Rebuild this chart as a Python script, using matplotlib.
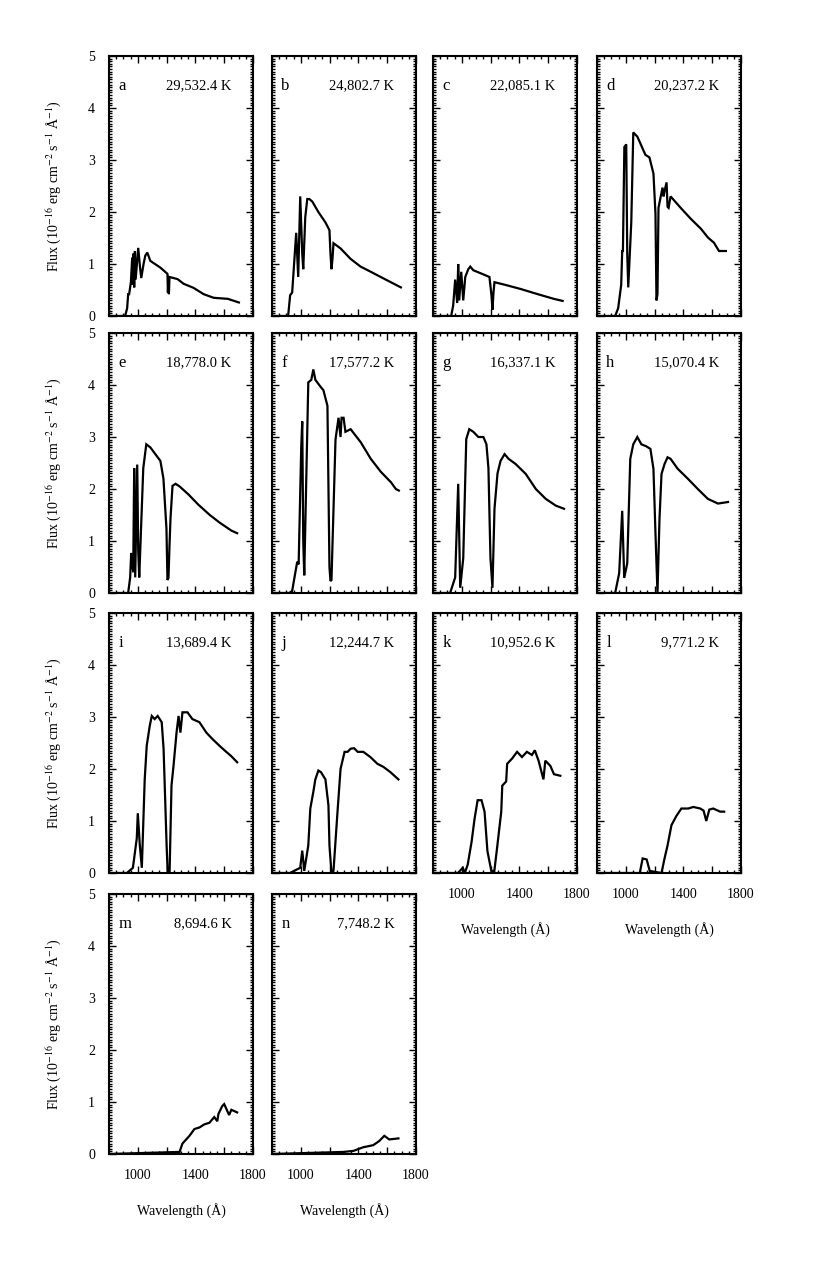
import matplotlib
matplotlib.use('Agg')
import matplotlib.pyplot as plt
from matplotlib.ticker import MultipleLocator, FixedLocator

plt.rcParams['font.family'] = ['Liberation Serif', 'DejaVu Serif']
plt.rcParams['mathtext.fontset'] = 'stix'

# panel letters and model temperatures
letters = ['a', 'b', 'c', 'd', 'e', 'f', 'g', 'h', 'i', 'j', 'k', 'l', 'm', 'n']
temps = ['29,532.4 K', '24,802.7 K', '22,085.1 K', '20,237.2 K', '18,778.0 K',
         '17,577.2 K', '16,337.1 K', '15,070.4 K', '13,689.4 K', '12,244.7 K',
         '10,952.6 K', '9,771.2 K', '8,694.6 K', '7,748.2 K']

# spectra (wavelength in A, flux in 1e-16 erg cm-2 s-1 A-1)
wl_a = [800, 912, 926, 933, 940, 952, 961, 966, 970, 975, 980, 985, 1003, 1015, 1024, 1040, 1052, 1066, 1087, 1157, 1206, 1209, 1213, 1216, 1220, 1276, 1318, 1388, 1457, 1527, 1625, 1702]
fx_a = [0, 0, 0.15, 0.42, 0.42, 0.65, 1.12, 0.6, 1.2, 0.55, 1.25, 0.7, 1.31, 0.95, 0.73, 1.0, 1.16, 1.22, 1.06, 0.93, 0.81, 0.45, 0.72, 0.42, 0.75, 0.71, 0.62, 0.54, 0.42, 0.35, 0.33, 0.26]

wl_b = [800, 912, 926, 940, 968, 982, 996, 1010, 1017, 1031, 1045, 1059, 1080, 1122, 1171, 1199, 1206, 1213, 1220, 1227, 1276, 1345, 1415, 1486, 1590, 1660, 1695]
fx_b = [0, 0, 0.4, 0.45, 1.6, 0.75, 2.3, 1.2, 0.9, 1.9, 2.25, 2.25, 2.2, 2.0, 1.8, 1.65, 1.2, 0.9, 1.1, 1.4, 1.3, 1.1, 0.95, 0.85, 0.7, 0.6, 0.55]

wl_c = [800, 926, 940, 954, 968, 975, 982, 996, 1010, 1024, 1045, 1059, 1080, 1150, 1192, 1206, 1213, 1220, 1227, 1300, 1408, 1527, 1639, 1700]
fx_c = [0, 0, 0.2, 0.7, 0.25, 1.0, 0.3, 0.85, 0.3, 0.75, 0.9, 0.95, 0.88, 0.8, 0.75, 0.4, 0.12, 0.45, 0.65, 0.6, 0.52, 0.42, 0.33, 0.29]

wl_d = [800, 926, 947, 968, 975, 980, 990, 1003, 1010, 1017, 1038, 1052, 1080, 1101, 1136, 1164, 1192, 1206, 1213, 1220, 1227, 1255, 1262, 1269, 1283, 1290, 1297, 1311, 1381, 1451, 1521, 1570, 1612, 1647, 1695]
fx_d = [0, 0, 0.15, 0.6, 1.25, 1.25, 3.25, 3.3, 1.2, 0.55, 1.8, 3.53, 3.45, 3.32, 3.1, 3.05, 2.74, 1.97, 0.3, 0.42, 2.08, 2.47, 2.3, 2.4, 2.57, 2.1, 2.08, 2.3, 2.08, 1.87, 1.68, 1.51, 1.41, 1.25, 1.25]

wl_e = [800, 933, 947, 954, 968, 975, 982, 996, 1003, 1010, 1038, 1059, 1087, 1122, 1157, 1178, 1199, 1206, 1213, 1220, 1227, 1241, 1262, 1290, 1350, 1420, 1500, 1570, 1650, 1690]
fx_e = [0, 0, 0.3, 0.77, 0.4, 2.4, 0.3, 2.47, 0.8, 0.3, 2.4, 2.86, 2.8, 2.67, 2.54, 2.2, 1.24, 0.25, 0.29, 0.9, 1.43, 2.06, 2.1, 2.05, 1.9, 1.7, 1.5, 1.35, 1.2, 1.15]

wl_f = [800, 920, 940, 975, 985, 1003, 1010, 1017, 1024, 1052, 1073, 1087, 1101, 1136, 1157, 1185, 1199, 1206, 1213, 1241, 1262, 1276, 1283, 1297, 1310, 1346, 1416, 1486, 1556, 1626, 1660, 1681]
fx_f = [0, 0, 0.04, 0.6, 0.55, 2.8, 3.3, 1.0, 0.34, 4.05, 4.1, 4.3, 4.1, 3.97, 3.9, 3.6, 0.5, 0.23, 0.25, 2.95, 3.37, 3.0, 3.37, 3.37, 3.1, 3.15, 2.9, 2.58, 2.33, 2.13, 2.0, 1.97]

wl_g = [800, 919, 954, 975, 989, 1010, 1031, 1052, 1080, 1115, 1150, 1171, 1185, 1199, 1213, 1227, 1248, 1269, 1297, 1325, 1374, 1444, 1514, 1583, 1653, 1710]
fx_g = [0, 0, 0.3, 2.1, 0.1, 0.67, 2.96, 3.15, 3.1, 3.0, 3.0, 2.86, 2.4, 0.67, 0.1, 1.62, 2.3, 2.54, 2.67, 2.58, 2.48, 2.29, 2.0, 1.81, 1.68, 1.62]

wl_h = [800, 926, 954, 975, 989, 1010, 1031, 1052, 1080, 1108, 1143, 1171, 1192, 1206, 1220, 1234, 1248, 1269, 1290, 1311, 1360, 1430, 1500, 1570, 1640, 1710]
fx_h = [0, 0, 0.38, 1.58, 0.29, 0.57, 2.58, 2.86, 3.0, 2.86, 2.82, 2.77, 2.39, 1.15, 0.0, 1.43, 2.29, 2.48, 2.61, 2.58, 2.39, 2.2, 2.0, 1.81, 1.72, 1.75]

wl_i = [800, 924, 966, 993, 1000, 1014, 1028, 1048, 1062, 1083, 1097, 1117, 1138, 1166, 1179, 1200, 1207, 1221, 1234, 1248, 1269, 1283, 1296, 1310, 1345, 1379, 1428, 1476, 1517, 1566, 1614, 1648, 1690]
fx_i = [0, 0, 0.1, 0.67, 1.15, 0.53, 0.1, 1.8, 2.45, 2.83, 3.02, 2.96, 3.02, 2.9, 2.39, 0.54, 0.04, 0.04, 1.68, 2.06, 2.7, 3.02, 2.7, 3.09, 3.09, 2.96, 2.9, 2.7, 2.58, 2.45, 2.33, 2.25, 2.13]

wl_j = [800, 924, 996, 1010, 1024, 1052, 1066, 1087, 1101, 1122, 1140, 1171, 1192, 1199, 1213, 1227, 1255, 1276, 1304, 1325, 1346, 1370, 1395, 1434, 1483, 1532, 1574, 1622, 1678]
fx_j = [0, 0, 0.1, 0.43, 0.04, 0.53, 1.24, 1.56, 1.8, 1.97, 1.94, 1.8, 1.3, 0.53, 0.0, 0.04, 1.18, 2.0, 2.33, 2.33, 2.39, 2.4, 2.33, 2.33, 2.23, 2.1, 2.04, 1.94, 1.8]

wl_k = [800, 973, 1007, 1021, 1041, 1068, 1089, 1110, 1137, 1158, 1178, 1205, 1226, 1247, 1274, 1281, 1308, 1315, 1349, 1384, 1418, 1452, 1487, 1507, 1533, 1567, 1580, 1615, 1640, 1684]
fx_k = [0, 0, 0.1, 0.0, 0.16, 0.6, 1.05, 1.4, 1.4, 1.18, 0.42, 0.04, 0.04, 0.53, 1.18, 1.68, 1.76, 2.1, 2.2, 2.33, 2.23, 2.33, 2.27, 2.36, 2.16, 1.8, 2.16, 2.06, 1.9, 1.87]

wl_l = [800, 1097, 1117, 1145, 1166, 1248, 1269, 1290, 1317, 1352, 1386, 1434, 1469, 1517, 1540, 1559, 1580, 1607, 1655, 1683]
fx_l = [0, 0, 0.28, 0.26, 0.04, 0.0, 0.28, 0.53, 0.92, 1.1, 1.24, 1.24, 1.27, 1.24, 1.2, 1.0, 1.22, 1.24, 1.18, 1.18]

wl_m = [800, 1290, 1310, 1359, 1393, 1428, 1462, 1497, 1531, 1552, 1560, 1586, 1600, 1634, 1650, 1690]
fx_m = [0, 0.04, 0.2, 0.35, 0.48, 0.51, 0.57, 0.6, 0.71, 0.63, 0.77, 0.92, 0.96, 0.75, 0.85, 0.8]

wl_n = [800, 1297, 1366, 1434, 1503, 1545, 1580, 1614, 1678]
fx_n = [0, 0.04, 0.06, 0.13, 0.17, 0.25, 0.35, 0.28, 0.3]

spectra = [(wl_a, fx_a), (wl_b, fx_b), (wl_c, fx_c), (wl_d, fx_d),
           (wl_e, fx_e), (wl_f, fx_f), (wl_g, fx_g), (wl_h, fx_h),
           (wl_i, fx_i), (wl_j, fx_j), (wl_k, fx_k), (wl_l, fx_l),
           (wl_m, fx_m), (wl_n, fx_n)]

W, H = 817, 1269
fig = plt.figure(figsize=(W / 100, H / 100), dpi=100)

col_left = [109, 272, 433, 597]     # pixel positions of the panels
row_top = [56, 333, 613, 894]
pw, ph = 144, 260

ylab = 'Flux (10$^{-16}$ erg cm$^{-2}$ s$^{-1}$ Å$^{-1}$)'

for k, (wl, fx) in enumerate(spectra):
    r, c = divmod(k, 4)
    x0, y0 = col_left[c], row_top[r]
    ax = fig.add_axes([x0 / W, 1 - (y0 + ph) / H, pw / W, ph / H])
    ax.plot(wl, fx, color='black', lw=1.6, solid_joinstyle='miter')
    ax.set_xlim(800, 1800)
    ax.set_ylim(0, 5)
    for s in ax.spines.values():
        s.set_linewidth(1.5)
    ax.xaxis.set_major_locator(FixedLocator([800, 1000, 1200, 1400, 1600, 1800]))
    ax.xaxis.set_minor_locator(MultipleLocator(50))
    ax.yaxis.set_major_locator(MultipleLocator(1))
    ax.yaxis.set_minor_locator(MultipleLocator(0.05))
    ax.tick_params(which='both', direction='in', top=True, right=True, width=1.0)
    ax.tick_params(which='major', length=5)
    ax.tick_params(which='minor', length=2.5)

    # x tick labels only on the lowest panel of each column
    if k in (10, 11, 12, 13):
        ax.set_xticklabels(['', '1000', '', '1400', '', '1800'], fontsize=10)
        ax.tick_params(axis='x', pad=11)
        ax.set_xlabel('Wavelength (Å)', fontsize=10, labelpad=15)
    else:
        ax.set_xticklabels([])

    if c == 0:
        ax.tick_params(axis='y', labelsize=10, pad=10)
        ax.set_ylabel(ylab, fontsize=10, labelpad=17)
    else:
        ax.set_yticklabels([])

    ax.text(0.065, 0.885, letters[k], transform=ax.transAxes, fontsize=12,
            ha='left', va='center')
    ax.text(0.85, 0.885, temps[k], transform=ax.transAxes, fontsize=10.5,
            ha='right', va='center')

fig.savefig('out.png', dpi=100)
